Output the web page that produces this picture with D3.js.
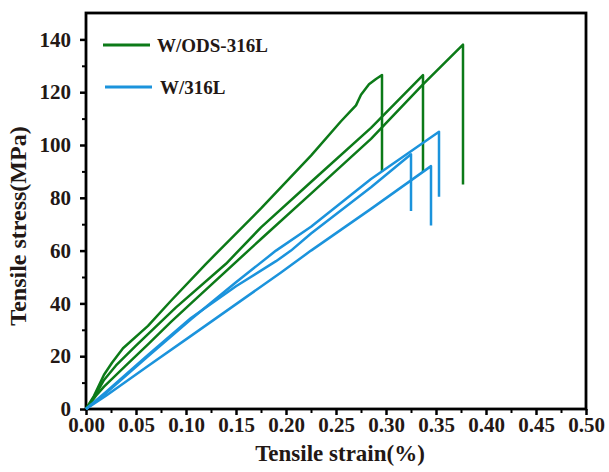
<!DOCTYPE html>
<html lang="en">

<head>
    <meta charset="UTF-8">
    <script src="https://d3js.org/d3.v7.min.js"></script>
    <title>Tensile stress-strain</title>
    <style>
        body { margin: 0; background: #fff; }
        .lbl { font-family: "Liberation Serif", "Times New Roman", serif; font-weight: bold; fill: #231815; }
    </style>
</head>

<body>
    <div id="my_dataviz"></div>

    <script>
        // curves: [strain %, stress MPa]
        const ods1 = [[0, 0], [0.008, 5], [0.018, 13], [0.026, 17.5], [0.037, 23], [0.062, 31.5], [0.085, 41], [0.12, 55],
            [0.175, 76], [0.225, 96], [0.255, 109], [0.265, 113], [0.27, 115], [0.275, 119], [0.283, 123], [0.29, 125],
            [0.296, 126.5], [0.296, 90]];
        const ods2 = [[0, 0], [0.009, 5], [0.018, 11], [0.03, 16.5], [0.05, 24], [0.09, 38.5], [0.14, 55], [0.175, 68.8],
            [0.225, 86], [0.285, 106.5], [0.337, 126.5], [0.337, 90]];
        const ods3 = [[0, 0], [0.01, 5], [0.018, 8.5], [0.04, 16.5], [0.062, 24.5], [0.085, 33], [0.105, 40], [0.175, 64.4],
            [0.225, 81.6], [0.285, 102.3], [0.337, 123], [0.377, 138], [0.377, 85]];
        const w1 = [[0, 0], [0.02, 6], [0.062, 20], [0.105, 34], [0.15, 48], [0.19, 60], [0.225, 69], [0.285, 87.1],
            [0.353, 105], [0.353, 80.4]];
        const w2 = [[0, 0], [0.02, 6.5], [0.062, 20.5], [0.105, 34.5], [0.15, 46.5], [0.19, 56], [0.205, 60], [0.225, 66.5],
            [0.285, 84], [0.325, 96.5], [0.325, 75]];
        const w3 = [[0, 0], [0.02, 5], [0.062, 16.3], [0.105, 27.7], [0.195, 51.7], [0.225, 60], [0.285, 75.8],
            [0.345, 92], [0.345, 69.5]];

        const odsCurves = [ods1, ods2, ods3];
        const wCurves = [w1, w2, w3];
        const seriesNames = ["W/ODS-316L", "W/316L"];
        const xTicks = [0, 0.05, 0.1, 0.15, 0.2, 0.25, 0.3, 0.35, 0.4, 0.45, 0.5];
        const yTicks = [0, 20, 40, 60, 80, 100, 120, 140];

        const green = "#0c7a18", blue = "#1b93dc";

        // set the dimensions and margins of the graph
        const margin = { top: 13, right: 23, bottom: 63, left: 86 },
            width = 609 - margin.left - margin.right,
            height = 472 - margin.top - margin.bottom;

        const svg = d3.select("#my_dataviz")
            .append("svg")
            .attr("width", 609)
            .attr("height", 472)
            .append("g")
            .attr("transform", `translate(${margin.left},${margin.top})`);

        const x = d3.scaleLinear().domain([0, 0.5]).range([0, width]);
        const y = d3.scaleLinear().domain([0, 150]).range([height, 0]);

        // minor ticks first (no labels)
        const xMinor = d3.range(0.025, 0.5, 0.05);
        const yMinor = d3.range(10, 150, 20);
        svg.append("g")
            .attr("transform", `translate(0,${height})`)
            .call(d3.axisBottom(x).tickValues(xMinor).tickSize(4).tickFormat(""))
            .call(g => g.select(".domain").remove())
            .selectAll("line").attr("stroke", "#000").attr("stroke-width", 2);
        svg.append("g")
            .call(d3.axisLeft(y).tickValues(yMinor).tickSize(4).tickFormat(""))
            .call(g => g.select(".domain").remove())
            .selectAll("line").attr("stroke", "#000").attr("stroke-width", 2);

        // major ticks
        const xAxis = svg.append("g")
            .attr("transform", `translate(0,${height})`)
            .call(d3.axisBottom(x).tickValues(xTicks).tickSize(6).tickPadding(2).tickSizeOuter(0).tickFormat(d3.format(".2f")));
        const yAxis = svg.append("g")
            .call(d3.axisLeft(y).tickValues(yTicks).tickSize(6).tickPadding(9).tickSizeOuter(0));
        [xAxis, yAxis].forEach(a => {
            a.select(".domain").remove();
            a.selectAll("line").attr("stroke", "#000").attr("stroke-width", 2.5);
            a.selectAll("text").attr("class", "lbl").style("font-size", "21px");
        });

        // frame
        svg.append("rect")
            .attr("width", width)
            .attr("height", height)
            .attr("fill", "none")
            .attr("stroke", "#000")
            .attr("stroke-width", 2.8);

        // curves
        const line = d3.line().x(d => x(d[0])).y(d => y(d[1]));
        svg.append("g").selectAll("path")
            .data(odsCurves.map(c => ({ c, col: green })).concat(wCurves.map(c => ({ c, col: blue }))))
            .join("path")
            .attr("d", d => line(d.c))
            .attr("fill", "none")
            .attr("stroke", d => d.col)
            .attr("stroke-width", 2.5)
            .attr("stroke-linejoin", "round");

        // legend
        const legend = svg.append("g")
            .selectAll("g")
            .data(seriesNames)
            .join("g")
            .attr("transform", (d, i) => `translate(${17 + i * 2},${32 + i * 42})`);
        legend.append("line")
            .attr("x1", 0).attr("x2", 47)
            .attr("stroke", (d, i) => i === 0 ? green : blue)
            .attr("stroke-width", 3);
        legend.append("text")
            .attr("class", "lbl")
            .attr("x", (d, i) => i === 0 ? 54 : 55)
            .attr("dy", "0.35em")
            .style("font-size", "19px")
            .text(d => d);

        // axis titles
        svg.append("text")
            .attr("class", "lbl")
            .attr("x", width / 2 + 4)
            .attr("y", height + 52)
            .attr("text-anchor", "middle")
            .style("font-size", "23px")
            .text("Tensile strain(%)");
        svg.append("text")
            .attr("class", "lbl")
            .attr("transform", `translate(${-60},${height / 2 + 15}) rotate(-90)`)
            .attr("text-anchor", "middle")
            .style("font-size", "24px")
            .text("Tensile stress(MPa)");
    </script>
</body>

</html>
